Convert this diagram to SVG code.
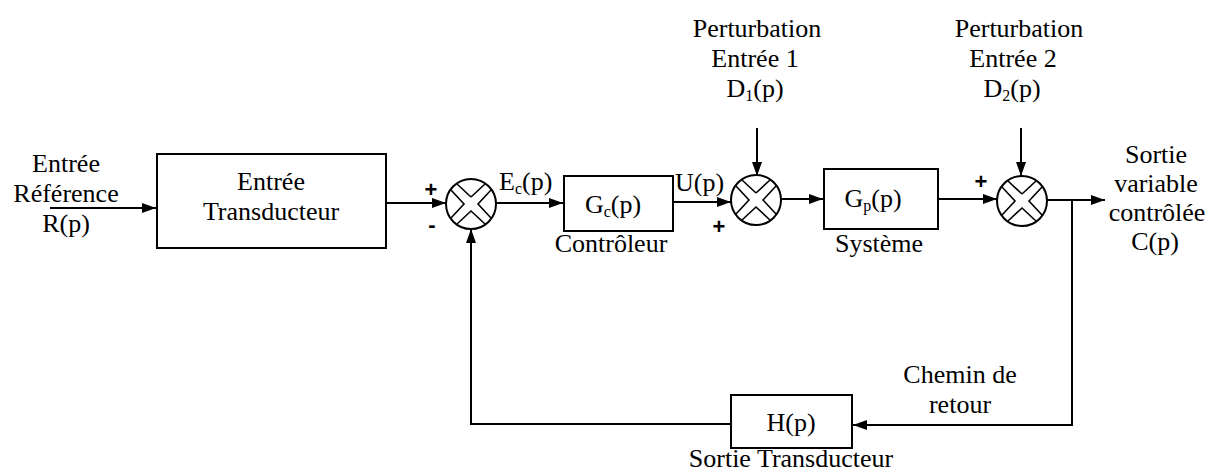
<svg xmlns="http://www.w3.org/2000/svg" width="1205" height="473" viewBox="0 0 1205 473" font-family="'Liberation Serif', 'Times New Roman', serif">
<style>
text.t{font-family:"Liberation Serif","Times New Roman",serif;font-size:26px;fill:#000}
text.c{text-anchor:middle}
tspan.s{font-size:16px}
text.sg{font-family:"Liberation Sans",Arial,sans-serif;font-size:22px;font-weight:bold;fill:#000;text-anchor:middle}
.box{fill:#fff;stroke:#000;stroke-width:2}
.ln{fill:none;stroke:#000;stroke-width:2}
.x{fill:none;stroke:#000;stroke-width:1.6;stroke-linejoin:miter}
</style>
<defs>
<marker id="ah" markerUnits="userSpaceOnUse" markerWidth="15" markerHeight="11" refX="14" refY="5" orient="auto">
<path d="M0,0 L14,5 L0,10 z" fill="#000"/>
</marker>
<g id="sumj">
<circle cx="0" cy="0" r="25" fill="#fff" stroke="#000" stroke-width="2"/>
<path class="x" d="M0,-7 L14,-20 M20,-14 L7,0 L20,14 M14,20 L0,7 L-14,20 M-20,14 L-7,0 L-20,-14 M-14,-20 L0,-7"/>
</g>
</defs>

<g id="connectors">
<path class="ln" d="M50,208 H156" marker-end="url(#ah)"/>
<path class="ln" d="M386,203 H446" marker-end="url(#ah)"/>
<path class="ln" d="M496,203 H563" marker-end="url(#ah)"/>
<path class="ln" d="M673,202 H731" marker-end="url(#ah)"/>
<path class="ln" d="M757,128 V176" marker-end="url(#ah)"/>
<path class="ln" d="M781,199 H823" marker-end="url(#ah)"/>
<path class="ln" d="M938,199 H997" marker-end="url(#ah)"/>
<path class="ln" d="M1021,128 V176" marker-end="url(#ah)"/>
<path class="ln" d="M1047,200 H1105" marker-end="url(#ah)"/>
<path class="ln" d="M1072,200 V425 H853" marker-end="url(#ah)"/>
<path class="ln" d="M731,424 H471 V229" marker-end="url(#ah)"/>
</g>

<g id="input-label">
<text class="t c" x="66" y="172">Entrée</text>
<text class="t c" x="66" y="202">Référence</text>
<text class="t c" x="66" y="232">R(p)</text>
</g>

<g id="entree-transducteur">
<rect class="box" x="157" y="154" width="229" height="94"/>
<text class="t c" x="271" y="190">Entrée</text>
<text class="t c" x="271" y="220">Transducteur</text>
</g>

<g id="sum1">
<use href="#sumj" x="471" y="204"/>
<text class="sg" x="431" y="197">+</text>
<text class="sg" x="432" y="232">-</text>
</g>

<text class="t" x="499" y="190">E<tspan class="s" dy="4">c</tspan><tspan dy="-4">(p)</tspan></text>

<g id="controleur">
<rect class="box" x="564" y="176" width="109" height="55"/>
<text class="t c" x="613" y="213">G<tspan class="s" dy="4">c</tspan><tspan dy="-4">(p)</tspan></text>
<text class="t c" x="611" y="252">Contrôleur</text>
</g>

<text class="t" x="675" y="191">U(p)</text>

<g id="perturbation1">
<text class="t c" x="757" y="37">Perturbation</text>
<text class="t c" x="755" y="67">Entrée 1</text>
<text class="t c" x="755" y="97">D<tspan class="s" dy="4">1</tspan><tspan dy="-4">(p)</tspan></text>
</g>

<g id="sum2">
<use href="#sumj" x="756" y="200"/>
<text class="sg" x="719" y="234">+</text>
</g>

<g id="systeme">
<rect class="box" x="824" y="169" width="114" height="60"/>
<text class="t c" x="873" y="207">G<tspan class="s" dy="4">p</tspan><tspan dy="-4">(p)</tspan></text>
<text class="t c" x="879" y="252">Système</text>
</g>

<g id="perturbation2">
<text class="t c" x="1019" y="37">Perturbation</text>
<text class="t c" x="1013" y="67">Entrée 2</text>
<text class="t c" x="1012" y="97">D<tspan class="s" dy="4">2</tspan><tspan dy="-4">(p)</tspan></text>
</g>

<g id="sum3">
<use href="#sumj" x="1022" y="201"/>
<text class="sg" x="981" y="189">+</text>
</g>

<g id="output-label">
<text class="t c" x="1156" y="163">Sortie</text>
<text class="t c" x="1156" y="192">variable</text>
<text class="t c" x="1157" y="221">contrôlée</text>
<text class="t c" x="1155" y="250">C(p)</text>
</g>

<g id="retour-label">
<text class="t c" x="960" y="383">Chemin de</text>
<text class="t c" x="960" y="413">retour</text>
</g>

<g id="sortie-transducteur">
<rect class="box" x="731" y="395" width="121" height="53"/>
<text class="t c" x="791" y="431">H(p)</text>
<text class="t c" x="791" y="467">Sortie Transducteur</text>
</g>
</svg>
